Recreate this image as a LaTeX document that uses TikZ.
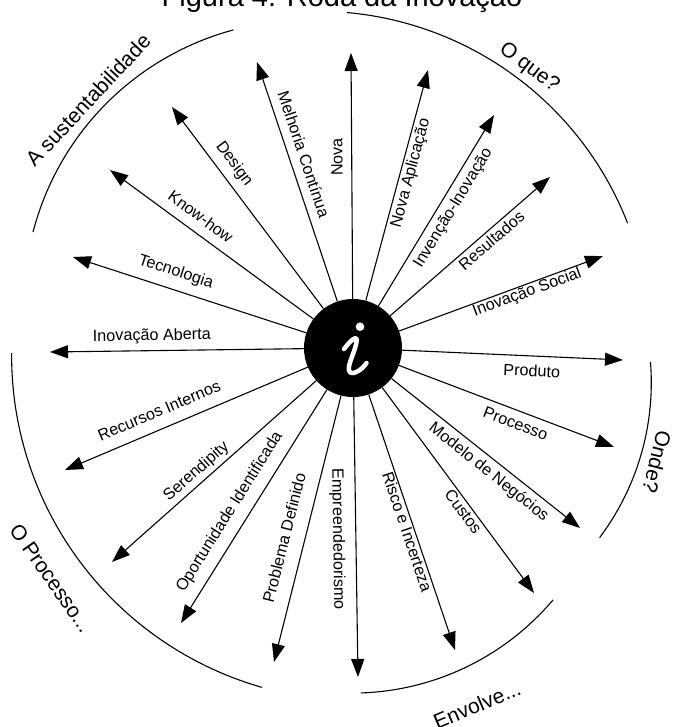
\documentclass[tikz,border=0pt]{standalone}
\usepackage{fontspec}
\setmainfont{Liberation Sans}
\usetikzlibrary{arrows.meta}
\begin{document}
\begin{tikzpicture}[x=1pt,y=-1pt,
  arr/.style={line width=1.1pt, -{Triangle[length=18pt,width=13pt]}},
  arcline/.style={line width=1.1pt},
  lab/.style={font=\fontsize{16.2}{16}\selectfont, sloped, inner sep=0pt, text height=11.5pt, text depth=3.2pt},
  big/.style={font=\fontsize{21}{21}\selectfont, inner sep=0pt}]
\fill[white] (0,0) rectangle (675,727);
\useasboundingbox (0,0) rectangle (675,727);
\node[font=\fontsize{29}{29}\selectfont, anchor=base, inner sep=0pt] (title) at (342,7) {Figura 4: Roda da Inovação};

\node[circle, fill=black, minimum size=98pt, inner sep=0pt] (c) at (353,348) {};

\coordinate (t1) at (351,53);
\coordinate (t2) at (257,62);
\coordinate (t3) at (172,107);
\coordinate (t4) at (110,170);
\coordinate (t5) at (73,257);
\coordinate (t6) at (50,352);
\coordinate (t7) at (65,470);
\coordinate (t8) at (112,562);
\coordinate (t9) at (181,623);
\coordinate (t10) at (274,662);
\coordinate (t11) at (358,677);
\coordinate (t12) at (455,650);
\coordinate (t13) at (534,593);
\coordinate (t14) at (580,528);
\coordinate (t15) at (614,447);
\coordinate (t16) at (623,360);
\coordinate (t17) at (603,256);
\coordinate (t18) at (550,177);
\coordinate (t19) at (494,115);
\coordinate (t20) at (428,70);

\draw[arr] (c) -- (t1) node[lab, allow upside down, pos=0.577, above=5.5pt] (n1) {Nova};
\draw[arr] (c) -- (t2) node[lab, pos=0.594, above=5.5pt] (n2) {Melhoria Contínua};
\draw[arr] (c) -- (t3) node[lab, pos=0.672, above=7.5pt] (n3) {Design};
\draw[arr] (c) -- (t4) node[lab, pos=0.6, above=6.5pt] (n4) {Know-how};
\draw[arr] (c) -- (t5) node[lab, pos=0.582, above=9.5pt] (n5) {Tecnologia};
\draw[arr] (c) -- (t6) node[lab, pos=0.598, above=6.5pt] (n6) {Inovação Aberta};
\draw[arr] (c) -- (t7) node[lab, pos=0.583, above=8.5pt] (n7) {Recursos Internos};
\draw[arr] (c) -- (t8) node[lab, pos=0.549, above=3.5pt] (n8) {Serendipity};
\draw[arr] (c) -- (t9) node[lab, pos=0.564, above=9.5pt] (n9) {Oportunidade Identificada};
\draw[arr] (c) -- (t10) node[lab, pos=0.552, above=11pt] (n10) {Problema Definido};
\draw[arr] (c) -- (t11) node[lab, pos=0.506, below=10.5pt] (n11) {Empreendedorismo};
\draw[arr] (c) -- (t12) node[lab, pos=0.528, below=1pt] (n12) {Risco e Incerteza};
\draw[arr] (c) -- (t13) node[lab, pos=0.58, below=2pt] (n13) {Custos};
\draw[arr] (c) -- (t14) node[lab, pos=0.559, below=5.5pt] (n14) {Modelo de Negócios};
\draw[arr] (c) -- (t15) node[lab, pos=0.563, below=6pt] (n15) {Processo};
\draw[arr] (c) -- (t16) node[lab, pos=0.59, below=8.5pt] (n16) {Produto};
\draw[arr] (c) -- (t17) node[lab, pos=0.614, below=0.5pt] (n17) {Inovação Social};
\draw[arr] (c) -- (t18) node[lab, pos=0.595, below=3pt] (n18) {Resultados};
\draw[arr] (c) -- (t19) node[lab, pos=0.549, below=5.5pt] (n19) {Invenção-Inovação};
\draw[arr] (c) -- (t20) node[lab, pos=0.564, below=2.5pt] (n20) {Nova Aplicação};

% the script i
\fill[white] (360,326.7) circle (4.3);
\draw[white, line width=4.5pt, line cap=round, line join=round]
  (344,349) .. controls (348,344) and (352,339) .. (355.5,338)
  .. controls (358,337.5) and (356,346) .. (353,354)
  .. controls (350,362) and (347,370) .. (350,372.5)
  .. controls (353,375) and (362,370) .. (366.5,363);

% outer arcs
\draw[arcline] plot[domain=194.5:255, samples=50] ({306.5+282.5*cos(\x)}, {302.8+282.5*sin(\x)});
\draw[arcline] plot[domain=275.1:338.7, samples=50] ({317.4+333*cos(\x)}, {344.2+333*sin(\x)});
\draw[arcline] plot[domain=-4.6:36.9, samples=40] ({393.3+258*cos(\x)}, {382.7+258*sin(\x)});
\draw[arcline] plot[domain=40.2:88.1, samples=40] ({352.2+263*cos(\x)}, {430.1+263*sin(\x)});
\draw[arcline] plot[domain=105.9:180.4, samples=60] ({356.6+345*cos(\x)}, {355.6+345*sin(\x)});

\node[big, rotate=47] (l1) at (88,100) {A sustentabilidade};
\node[big, rotate=-37] (l2) at (529,68) {O que?};
\node[big, rotate=-104] (l3) at (657,462) {Onde?};
\node[big, rotate=23] (l4) at (477,705) {Envolve...};
\node[big, rotate=-55] (l5) at (51,578) {O Processo...};
\end{tikzpicture}
\end{document}
